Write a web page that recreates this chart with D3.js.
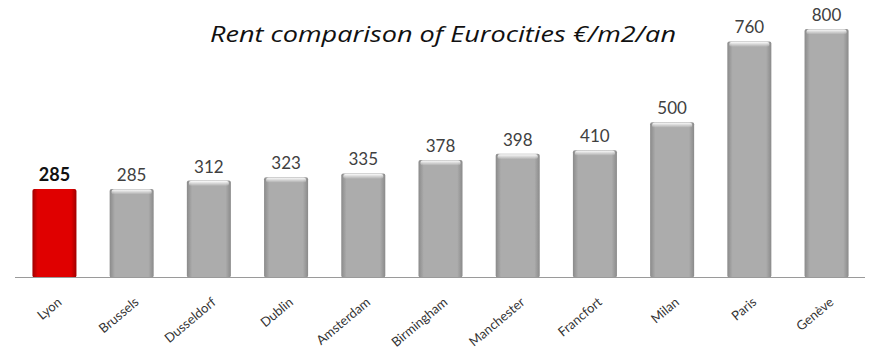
<!DOCTYPE html>
<html><head><meta charset="utf-8">
<script src="https://cdn.jsdelivr.net/npm/d3@7"></script>
<style>body{margin:0;background:#fff}</style>
</head><body>
<svg id="c" width="869" height="349"></svg>
<script>
const categories = ["Lyon","Brussels","Dusseldorf","Dublin","Amsterdam","Birmingham","Manchester","Francfort","Milan","Paris","Genève"];
const values = [285,285,312,323,335,378,398,410,500,760,800];
const highlight = ["Lyon"];
const title = "Rent comparison of Eurocities €/m2/an";

const data = categories.map((c, i) => ({ c, v: values[i], hl: highlight.includes(c) }));

const svg = d3.select("#c");
const x = d3.scaleBand().domain(categories).range([17, 864]).paddingInner(0.43).paddingOuter(0.2);
const y = d3.scaleLinear().domain([0, 800]).range([277.5, 29]);

const defs = svg.append("defs");
function grad(id, edge, mid) {
  const g = defs.append("linearGradient").attr("id", id).attr("x1", 0).attr("x2", 1).attr("y1", 0).attr("y2", 0);
  g.append("stop").attr("offset", "0%").attr("stop-color", edge);
  g.append("stop").attr("offset", "12%").attr("stop-color", mid);
  g.append("stop").attr("offset", "88%").attr("stop-color", mid);
  g.append("stop").attr("offset", "100%").attr("stop-color", edge);
}
grad("gGray", "#8a8a8a", "#acacac");
grad("gRed", "#a00000", "#e00000");
const cap = defs.append("linearGradient").attr("id", "gCap").attr("x1", 0).attr("x2", 0).attr("y1", 0).attr("y2", 1);
cap.append("stop").attr("offset", "0%").attr("stop-color", "#ffffff").attr("stop-opacity", 0.95);
cap.append("stop").attr("offset", "100%").attr("stop-color", "#ffffff").attr("stop-opacity", 0);

svg.append("text").attr("x", 210).attr("y", 42).attr("text-anchor", "start")
  .attr("font-family", "'Open Sans', sans-serif").attr("font-style", "italic")
  .attr("font-weight", 400)
  .attr("font-size", 21).attr("fill", "#111")
  .attr("textLength", 466).attr("lengthAdjust", "spacingAndGlyphs")
  .text(title);

const bars = svg.append("g").selectAll("g").data(data).join("g");
bars.append("rect")
  .attr("x", d => x(d.c)).attr("width", x.bandwidth())
  .attr("y", d => y(d.v)).attr("height", d => y(0) - y(d.v))
  .attr("rx", 2)
  .attr("fill", d => d.hl ? "url(#gRed)" : "url(#gGray)");
bars.filter(d => !d.hl).append("rect")
  .attr("x", d => x(d.c) + 2).attr("width", x.bandwidth() - 4)
  .attr("y", d => y(d.v) + 0.5).attr("height", 5).attr("rx", 2)
  .attr("fill", "url(#gCap)");

svg.append("line").attr("x1", 15).attr("x2", 865).attr("y1", y(0)).attr("y2", y(0))
  .attr("stroke", "#9a9a9a").attr("stroke-width", 1.2);

bars.append("text")
  .attr("x", d => x(d.c) + x.bandwidth() / 2)
  .attr("y", d => y(d.v) - 8)
  .attr("text-anchor", "middle")
  .attr("font-family", "Lato, 'Liberation Sans', sans-serif")
  .attr("font-size", d => d.hl ? 18 : 17)
  .attr("font-weight", d => d.hl ? "bold" : "normal")
  .attr("fill", d => d.hl ? "#111" : "#404040")
  .text(d => d.v);

bars.append("text")
  .attr("transform", d => `translate(${x(d.c) + x.bandwidth() / 2 + 8},${y(0) + 26}) rotate(-40)`)
  .attr("text-anchor", "end")
  .attr("font-family", "Lato, 'Liberation Sans', sans-serif")
  .attr("font-size", 13)
  .attr("fill", "#333")
  .text(d => d.c);
</script>
</body></html>
